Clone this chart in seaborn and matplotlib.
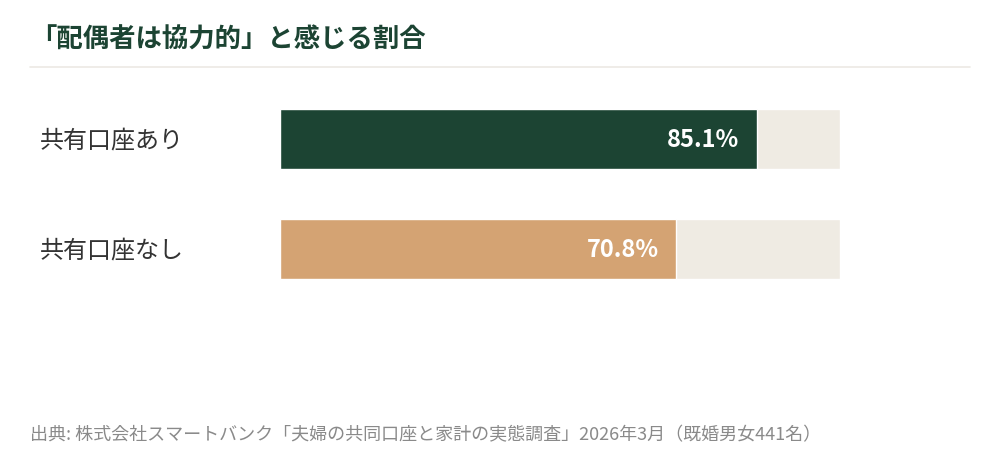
import matplotlib
matplotlib.use("Agg")
import matplotlib.pyplot as plt
import matplotlib.transforms as mtransforms
import pandas as pd
import seaborn as sns

# データ
categories = ["共有口座あり", "共有口座なし"]
values = [85.1, 70.8]
track = [100, 100]
bar_colors = ["#1c4433", "#d4a373"]

title = "「配偶者は協力的」と感じる割合"
source = "出典: 株式会社スマートバンク「夫婦の共同口座と家計の実態調査」2026年3月（既婚男女441名）"

sns.set_theme(style="white")
plt.rcParams['font.family'] = ['Noto Sans CJK JP', 'DejaVu Sans']

df = pd.DataFrame({"category": categories, "value": values, "track": track})

fig = plt.figure(figsize=(10, 4.6), dpi=100)
ax = fig.add_axes([0.28, 1 - 305 / 460, 0.56, 220 / 460])

# 背景トラック
sns.barplot(data=df, x="track", y="category", color="#efebe3", width=0.545,
            ax=ax, orient="h", saturation=1)
# 値のバー
sns.barplot(data=df, x="value", y="category", hue="category",
            palette=bar_colors, width=0.545, ax=ax, orient="h",
            saturation=1, legend=False)

ax.set_xlim(0, 100)
ax.set_ylim(1.5, -0.5)
ax.set_xlabel("")
ax.set_ylabel("")
ax.set_xticks([])
ax.set_yticks([])
for s in ax.spines.values():
    s.set_visible(False)

# ラベル
trans = mtransforms.blended_transform_factory(fig.transFigure, ax.transData)
for i, (cat, v) in enumerate(zip(categories, values)):
    ax.text(0.040, i, cat, transform=trans, ha="left", va="center",
            fontsize=17.3, color="#333333")
    ax.text(v - 3.2, i, f"{v:.1f}%", ha="right", va="center",
            fontsize=17, fontweight="bold", color="white")

# タイトルと区切り線
fig.text(0.030, 1 - 40 / 460, title, ha="left", va="center",
         fontsize=19, fontweight="bold", color="#1c4433")
fig.add_artist(plt.Line2D([0.030, 0.970], [1 - 68 / 460, 1 - 68 / 460],
                          color="#ece9e4", linewidth=1.2,
                          transform=fig.transFigure))

fig.text(0.030, 1 - 435 / 460, source, ha="left", va="center",
         fontsize=13, color="#8a8a8a")

fig.savefig("out.png", dpi=100, facecolor="white")
